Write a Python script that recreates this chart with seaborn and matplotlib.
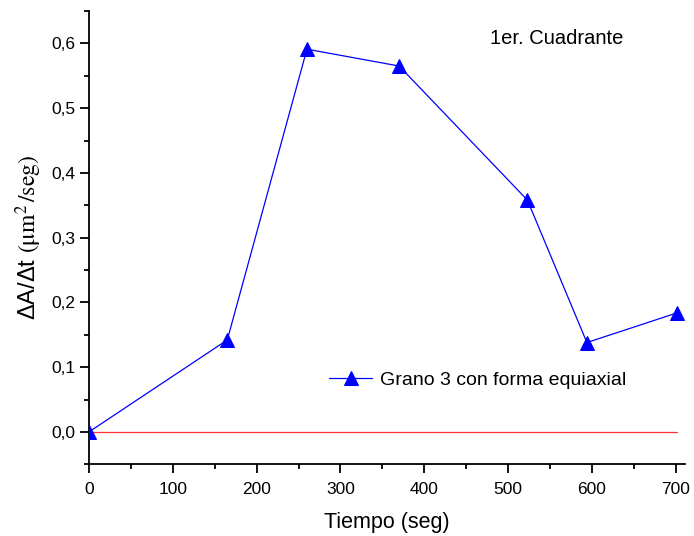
import matplotlib
matplotlib.use("Agg")
import matplotlib.pyplot as plt
import seaborn as sns
import pandas as pd
from matplotlib.ticker import MultipleLocator, FuncFormatter

# Grain growth rate data
tiempo = [0, 165, 260, 370, 523, 594, 702]
tasa = [0.0, 0.142, 0.591, 0.565, 0.358, 0.138, 0.184]
serie = "Grano 3 con forma equiaxial"
x_ticks = [0, 100, 200, 300, 400, 500, 600, 700]
y_ticks = [0.0, 0.1, 0.2, 0.3, 0.4, 0.5, 0.6]

sns.set_style("ticks")
plt.rcParams["font.family"] = ["Liberation Sans", "DejaVu Sans"]
plt.rcParams["mathtext.fontset"] = "stix"
plt.rcParams["text.color"] = "black"
plt.rcParams["axes.labelcolor"] = "black"
plt.rcParams["xtick.color"] = "black"
plt.rcParams["ytick.color"] = "black"
plt.rcParams["axes.edgecolor"] = "black"

df = pd.DataFrame({"Tiempo": tiempo, "Tasa": tasa})

fig = plt.figure(figsize=(6.94, 5.36), dpi=100)
ax = fig.add_axes([0.1282, 0.1338, 0.987 - 0.1282, 0.9795 - 0.1338])

# Reference line at zero
ax.plot([min(tiempo), max(tiempo)], [0, 0], color="#ff3030", lw=0.9, zorder=1)

sns.lineplot(data=df, x="Tiempo", y="Tasa", ax=ax, color="blue", lw=0.9,
             marker="^", markersize=10, markeredgecolor="blue",
             markerfacecolor="blue", label=serie, zorder=3)

ax.set_xlim(0, 711)
ax.set_ylim(-0.05, 0.65)
ax.set_xticks(x_ticks)
ax.set_yticks(y_ticks)
ax.xaxis.set_minor_locator(MultipleLocator(50))
ax.yaxis.set_minor_locator(MultipleLocator(0.05))
ax.yaxis.set_major_formatter(FuncFormatter(lambda v, p: f"{v:.1f}".replace(".", ",")))

for s in ["top", "right"]:
    ax.spines[s].set_visible(False)
for s in ["left", "bottom"]:
    ax.spines[s].set_linewidth(1.3)
ax.tick_params(which="major", length=6.5, width=1.3, labelsize=12.5, direction="out")
ax.tick_params(axis="x", which="major", pad=6)
ax.tick_params(which="minor", length=3.5, width=1.3, direction="out")

ax.set_xlabel("Tiempo (seg)", fontsize=15.5, labelpad=11)
ax.set_ylabel(r"ΔA/Δt $(\mathrm{\mu m}^{2}\,/\mathrm{seg})$", fontsize=17, labelpad=5)

ax.legend(frameon=False, fontsize=14, loc="center left",
          bbox_to_anchor=(0.374, 0.186), handlelength=2.2, handletextpad=0.4)

ax.text(0.785, 0.94, "1er. Cuadrante", transform=ax.transAxes,
        fontsize=14.5, ha="center", va="center")

fig.savefig("out.png", dpi=100)
